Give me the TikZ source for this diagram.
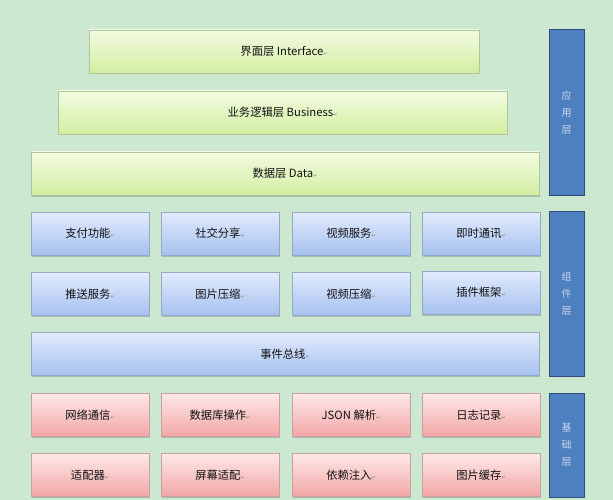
\documentclass[tikz,border=0pt]{standalone}
\usepackage{fontspec}
\setmainfont{Noto Sans CJK SC}
\newfontfamily\dejavu{DejaVu Sans}
\usetikzlibrary{shadows}
\definecolor{bg}{HTML}{CCE8D0}
\definecolor{barfill}{HTML}{4E7FBF}
\definecolor{barline}{HTML}{2F4F7A}
\definecolor{bartext}{HTML}{C9D8EE}
\definecolor{txt}{HTML}{111111}
\definecolor{greentop}{HTML}{F3FBE2}
\definecolor{greenbot}{HTML}{D2EEA0}
\definecolor{greenline}{HTML}{B0C59A}
\definecolor{bluetop}{HTML}{E2EBFC}
\definecolor{bluebot}{HTML}{A6C1F0}
\definecolor{blueline}{HTML}{93A9C6}
\definecolor{redtop}{HTML}{FDE8E8}
\definecolor{redbot}{HTML}{F3A6A6}
\definecolor{redline}{HTML}{C8A0A0}
\newcommand\rtn{{\dejavu\fontsize{5}{5}\selectfont\color{gray}↵}}
\tikzset{
  basebox/.style={rectangle, inner sep=0pt, minimum height=43pt,
    font=\fontsize{11.3}{13}\selectfont, text=txt,
    drop shadow={shadow xshift=1pt, shadow yshift=-1.5pt, opacity=0.35, fill=black!60}},
  greenbox/.style={basebox, draw=greenline, top color=greentop, bottom color=greenbot},
  bluebox/.style={basebox, draw=blueline, top color=bluetop, bottom color=bluebot, minimum width=118pt},
  widebluebox/.style={basebox, draw=blueline, top color=bluetop, bottom color=bluebot, minimum width=508pt},
  redbox/.style={basebox, draw=redline, top color=redtop, bottom color=redbot, minimum width=118pt},
  sidebar/.style={rectangle, inner sep=0pt, minimum width=35pt, fill=barfill, draw=barline, line width=1pt,
    text=bartext, font=\fontsize{10}{17}\selectfont, align=center},
}
\begin{document}
\begin{tikzpicture}[x=1pt,y=-1pt]
\fill[bg] (0,0) rectangle (613,500);
\useasboundingbox (0,0) rectangle (613,500);
% application layer
\node[greenbox, minimum width=390pt] (iface) at (284,51.5) {界面层\ Interface\rtn};
\node[greenbox, minimum width=449pt] (biz) at (282.5,112.5) {业务逻辑层\ Business\rtn};
\node[greenbox, minimum width=508pt] (data) at (285,173.5) {数据层 Data\rtn};
\node[sidebar, minimum height=165pt] (app) at (566.5,112.5) {应\\用\\层};
% component layer
\node[bluebox] (pay) at (90,233.5) {支付功能\rtn};
\node[bluebox] (share) at (220,233.5) {社交分享\rtn};
\node[bluebox] (video) at (351,233.5) {视频服务\rtn};
\node[bluebox] (im) at (481,233.5) {即时通讯\rtn};
\node[bluebox] (push) at (90,294) {推送服务\rtn};
\node[bluebox] (imgzip) at (220,294) {图片压缩\rtn};
\node[bluebox] (vidzip) at (351,294) {视频压缩\rtn};
\node[bluebox] (plugin) at (481,292.5) {插件框架\rtn};
\node[widebluebox] (bus) at (285,354) {事件总线\rtn};
\node[sidebar, minimum height=165pt] (comp) at (566.5,293.5) {组\\件\\层};
% base layer
\node[redbox] (net) at (90,415) {网络通信\rtn};
\node[redbox] (db) at (220,415) {数据库操作\rtn};
\node[redbox] (json) at (351,415) {JSON 解析\rtn};
\node[redbox] (log) at (481,415) {日志记录\rtn};
\node[redbox] (adapter) at (90,475) {适配器\rtn};
\node[redbox] (screen) at (220,475) {屏幕适配\rtn};
\node[redbox] (di) at (351,475) {依赖注入\rtn};
\node[redbox] (cache) at (481,475) {图片缓存\rtn};
\node[sidebar, minimum height=104pt] (base) at (566.5,445) {基\\础\\层};
\end{tikzpicture}
\end{document}
